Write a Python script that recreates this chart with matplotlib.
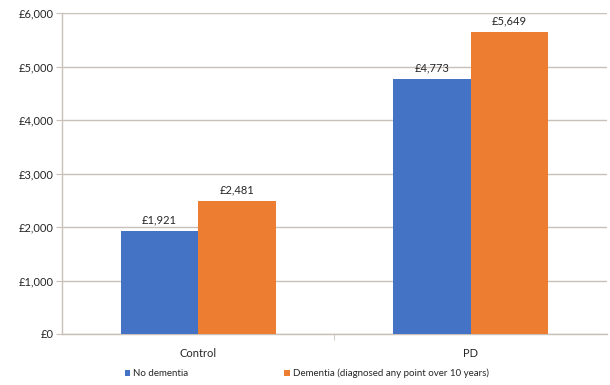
import numpy as np
import matplotlib.pyplot as plt
from matplotlib.ticker import FuncFormatter

plt.rcParams['font.family'] = ['Lato', 'DejaVu Sans']

# cost per patient, grouped by cohort
groups = ["Control", "PD"]
series_names = ["No dementia", "Dementia (diagnosed any point over 10 years)"]
no_dementia = [1921, 4773]
dementia = [2481, 5649]
y_ticks = [0, 1000, 2000, 3000, 4000, 5000, 6000]

blue = "#4472C4"
orange = "#ED7D31"
grid_col = "#c9c0b8"
text_col = "#262626"

fig = plt.figure(figsize=(6.1, 3.85), dpi=100)
ax = fig.add_axes([0.1016, 0.1325, 0.8934, 0.8335])

x = np.arange(len(groups))
w = 0.285

b1 = ax.bar(x - w / 2, no_dementia, w, color=blue, label=series_names[0], zorder=3)
b2 = ax.bar(x + w / 2, dementia, w, color=orange, label=series_names[1], zorder=3)

for bars, vals in [(b1, no_dementia), (b2, dementia)]:
    for rect, v in zip(bars, vals):
        ax.annotate(f"£{v:,}", (rect.get_x() + rect.get_width() / 2, v),
                    xytext=(0, 4), textcoords="offset points",
                    ha="center", va="bottom", fontsize=8, color=text_col)

ax.set_xlim(-0.5, 1.5)
ax.set_ylim(0, 6000)
ax.set_yticks(y_ticks)
ax.yaxis.set_major_formatter(FuncFormatter(lambda v, p: f"£{int(v):,}"))
ax.yaxis.grid(True, color=grid_col, linewidth=1.0, zorder=0)
ax.set_xticks(x)
ax.set_xticklabels(groups)
ax.set_xticks([0.5], minor=True)

for side in ["top", "right"]:
    ax.spines[side].set_visible(False)
ax.spines["left"].set_color(grid_col)
ax.spines["bottom"].set_color(grid_col)
ax.spines["left"].set_linewidth(1.0)
ax.spines["bottom"].set_linewidth(1.0)

ax.tick_params(axis="y", length=4, color=grid_col, labelsize=8, labelcolor=text_col, pad=2)
ax.tick_params(axis="x", which="major", length=0, labelsize=8, labelcolor=text_col, pad=10)
ax.tick_params(axis="x", which="minor", length=4, color=grid_col)

leg = fig.legend(handles=[b1, b2], loc="lower left", bbox_to_anchor=(0.19, -0.005),
                 ncol=2, frameon=False, fontsize=7, handlelength=0.6, handleheight=0.6,
                 handletextpad=0.3, columnspacing=9.8)
for t in leg.get_texts():
    t.set_color(text_col)

fig.savefig("out.png", dpi=100)
